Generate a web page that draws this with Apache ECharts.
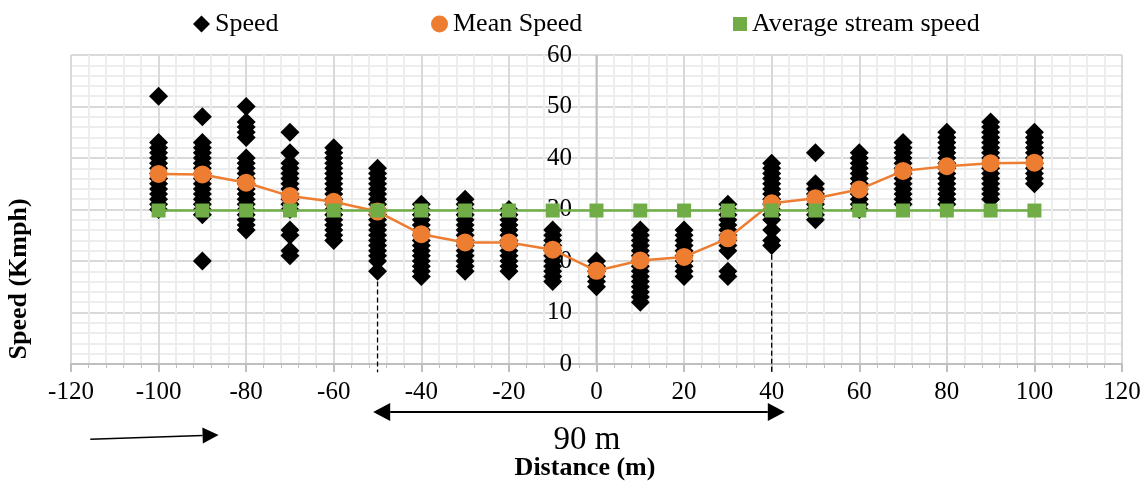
<!DOCTYPE html>
<html>
<head>
<meta charset="utf-8">
<script src="https://cdn.jsdelivr.net/npm/echarts@6/dist/echarts.min.js"></script>
<style>
html,body{margin:0;padding:0;background:#fff;}
#chart{width:1147px;height:484px;}
</style>
</head>
<body>
<div id="chart"></div>
<script>
// ---- data ----
const distances = [-100,-90,-80,-70,-60,-50,-40,-30,-20,-10,0,10,20,30,40,50,60,70,80,90,100];
const speedsAtDistance = [
  [52,43,42,41,40,39,38,37,36,35,34,33,32,31,30],
  [48,43,42,41,40,39,38,37,36,35,34,33,32,31,30,29,20],
  [50,47,46,45,44,40,39,38,37,36,35,34,33,32,31,30,29,28,27,26],
  [45,41,39,38,37,36,35,34,33,32,31,30,26,25,22,21],
  [42,41,40,39,38,37,36,35,34,33,32,31,30,29,28,27,26,25,24],
  [38,37,36,35,34,33,32,31,30,29,28,27,26,25,24,23,22,21,20,18],
  [31,30,29,28,27,26,25,24,23,22,21,20,19,18,17],
  [32,31,30,29,28,27,26,25,24,23,22,21,20,19,18],
  [30,29,28,27,26,25,24,23,22,21,20,19,18],
  [26,25,24,23,22,21,20,19,18,17,16],
  [20,19,18,17,16,15],
  [26,25,24,23,22,21,20,19,18,17,16,15,14,13,12],
  [26,25,24,23,22,21,20,19,18,17],
  [31,30,29,28,27,26,25,24,23,22,18,17],
  [39,38,37,36,35,34,33,32,31,30,29,28,26,24,23],
  [41,35,34,33,32,31,30,29,28],
  [41,40,39,38,37,36,35,34,33,32,31,30],
  [43,42,41,40,39,38,37,36,35,34,33,32,31],
  [45,44,43,42,41,40,39,38,37,36,35,34,33,32,31],
  [47,46,45,44,43,42,41,40,39,38,37,36,35,34,33,32],
  [45,44,43,42,41,40,39,38,37,36,35]
];
const meanSpeed = [36.9,36.8,35.2,32.6,31.5,29.6,25.2,23.6,23.6,22.2,18.1,20.1,20.8,24.4,31.2,32.2,33.9,37.5,38.4,39.0,39.1];
const avgStreamSpeed = [29.8,29.8,29.8,29.8,29.8,29.8,29.8,29.8,29.8,29.8,29.8,29.8,29.8,29.8,29.8,29.8,29.8,29.8,29.8,29.8,29.8];
const seriesNames = ['Speed','Mean Speed','Average stream speed'];
// annotation values (data units)
const yAxisAtZero = [[0,0],[0,60]];
const guideLeft = [[-50,16.0],[-50,-1.6]];
const guideRight = [[40,21.2],[40,-1.6]];
const spanArrow = [[-51,-9.3],[43,-9.3]];
const flowArrow = [[-115.6,-14.6],[-86.3,-13.8]];

const FONT = "'Liberation Serif','Times New Roman',serif";

const speedPoints = [];
distances.forEach((d,i)=>speedsAtDistance[i].forEach(v=>speedPoints.push([d,v])));

const chart = echarts.init(document.getElementById('chart'), null, {renderer:'canvas'});

const legendBase = {top:6, textStyle:{fontFamily:FONT,fontSize:26,color:'#000'}, selectedMode:false, itemGap:0};

const GRID_LEFT = 71, GRID_RIGHT = 25;

chart.setOption({
  animation:false,
  backgroundColor:'#fff',
  legend:[
    Object.assign({}, legendBase, {data:['Speed'], left:188, itemWidth:17, itemHeight:17, icon:'diamond'}),
    Object.assign({}, legendBase, {data:['Mean Speed'], left:426, itemWidth:17, itemHeight:17, icon:'circle'}),
    Object.assign({}, legendBase, {data:['Average stream speed'], left:728, itemWidth:14, itemHeight:14, icon:'rect'})
  ],
  grid:{left:GRID_LEFT, right:GRID_RIGHT, top:55, bottom:120, containLabel:false},
  xAxis:{
    type:'value', min:-120, max:120, interval:20,
    axisLine:{show:true, onZero:false, lineStyle:{color:'#bfbfbf', width:2}},
    axisTick:{show:true, length:8, lineStyle:{color:'#bfbfbf', width:2}},
    minorTick:{show:true, splitNumber:5, length:4, lineStyle:{color:'#bfbfbf', width:1}},
    axisLabel:{fontFamily:FONT, fontSize:25, color:'#000', margin:16},
    splitLine:{show:true, lineStyle:{color:'#d9d9d9', width:2}},
    minorSplitLine:{show:true, lineStyle:{color:'#ededed', width:2}}
  },
  yAxis:{
    type:'value', min:0, max:60, interval:10,
    axisLine:{show:false},
    axisTick:{show:false},
    minorTick:{show:false, splitNumber:5},
    axisLabel:{fontFamily:FONT, fontSize:25, color:'#000', align:'right',
               margin: GRID_LEFT - 572},
    splitLine:{show:true, lineStyle:{color:'#d9d9d9', width:2}},
    minorSplitLine:{show:true, lineStyle:{color:'#ededed', width:2}}
  },
  series:[
    {name:'yAxisLine', type:'line', symbol:'none', silent:true,
     lineStyle:{color:'#bfbfbf', width:2}, data:yAxisAtZero, z:1},
    {name:seriesNames[0], type:'scatter', symbol:'diamond', symbolSize:19,
     itemStyle:{color:'#000', opacity:1}, data:speedPoints, z:2},
    {name:seriesNames[1], type:'line', symbol:'circle', symbolSize:18, showSymbol:true,
     itemStyle:{color:'#ED7D31', opacity:1}, lineStyle:{color:'#ED7D31', width:2.5},
     data:distances.map((d,i)=>[d,meanSpeed[i]]), z:3},
    {name:seriesNames[2], type:'line', symbol:'rect', symbolSize:14, showSymbol:true,
     itemStyle:{color:'#70AD47', opacity:1}, lineStyle:{color:'#70AD47', width:2.5},
     data:distances.map((d,i)=>[d,avgStreamSpeed[i]]), z:4},
    {name:'guideL', type:'line', symbol:'none', clip:false, silent:true,
     lineStyle:{color:'#000', width:1.3, type:[5,3]}, data:guideLeft, z:5},
    {name:'guideR', type:'line', symbol:'none', clip:false, silent:true,
     lineStyle:{color:'#000', width:1.3, type:[5,3]}, data:guideRight, z:5}
  ]
});

function px(p){ return chart.convertToPixel({gridIndex:0}, p); }
function head(tip, from, len, half){
  const dx=tip[0]-from[0], dy=tip[1]-from[1], d=Math.hypot(dx,dy);
  const ux=dx/d, uy=dy/d, bx=tip[0]-ux*len, by=tip[1]-uy*len;
  return {shape:[tip,[bx-uy*half,by+ux*half],[bx+uy*half,by-ux*half]], base:[bx,by]};
}
const sa = px(spanArrow[0]), sb = px(spanArrow[1]);
const hL = head(sa, sb, 17, 9), hR = head(sb, sa, 17, 9);
const fa = px(flowArrow[0]), fb = px(flowArrow[1]);
const hF = head(fb, fa, 16, 8);

chart.setOption({
  graphic:[
    {type:'line', shape:{x1:hL.base[0], y1:hL.base[1], x2:hR.base[0], y2:hR.base[1]}, style:{stroke:'#000', lineWidth:2}},
    {type:'polygon', shape:{points:hL.shape}, style:{fill:'#000'}},
    {type:'polygon', shape:{points:hR.shape}, style:{fill:'#000'}},
    {type:'line', shape:{x1:fa[0], y1:fa[1], x2:hF.base[0], y2:hF.base[1]}, style:{stroke:'#000', lineWidth:1.5}},
    {type:'polygon', shape:{points:hF.shape}, style:{fill:'#000'}},
    {type:'text', x:587, y:440, style:{text:'90 m', font:"33px "+FONT, fill:'#000', align:'center', verticalAlign:'middle'}},
    {type:'text', x:585, y:468, style:{text:'Distance (m)', font:"bold 26px "+FONT, fill:'#000', align:'center', verticalAlign:'middle'}},
    {type:'text', x:19, y:279, rotation:Math.PI/2, style:{text:'Speed (Kmph)', font:"bold 26px "+FONT, fill:'#000', align:'center', verticalAlign:'middle'}}
  ]
});
</script>
</body>
</html>
